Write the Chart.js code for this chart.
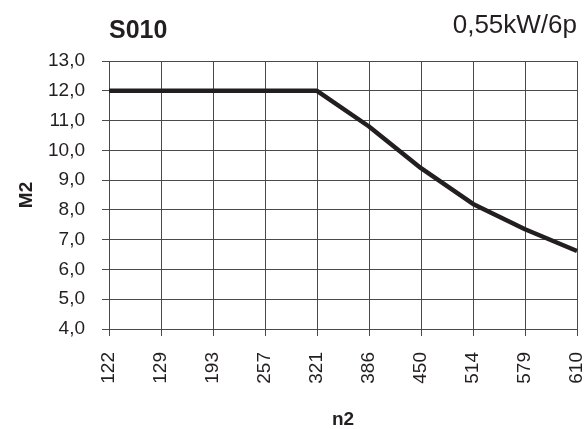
<!DOCTYPE html>
<html>
<head>
<meta charset="utf-8">
<script src="https://cdn.jsdelivr.net/npm/chart.js@4"></script>
<style>
  html, body { margin: 0; padding: 0; background: #fff; }
  #wrap { width: 587px; height: 429px; }
</style>
</head>
<body>
<div id="wrap"><canvas id="chart" width="587" height="429"></canvas></div>
<script>
const n2 = ["122", "129", "193", "257", "321", "386", "450", "514", "579", "610"];
const m2 = [12, 12, 12, 12, 12, 10.8, 9.4, 8.2, 7.35, 6.62];
const yMin = 4;
const yMax = 13;
const chartTitle = "S010";
const chartSubtitle = "0,55kW/6p";

const ink = "#231f20";
const gridColor = "#4a4a4a";
const fontFamily = '"Liberation Sans", Arial, sans-serif';

// titles sit above the plot, aligned to the chart area edges
const headerPlugin = {
  id: "header",
  afterDraw(chart) {
    const ctx = chart.ctx;
    const area = chart.chartArea;
    ctx.save();
    ctx.fillStyle = ink;
    ctx.textBaseline = "alphabetic";
    ctx.font = "bold 25px " + fontFamily;
    ctx.textAlign = "left";
    ctx.fillText(chartTitle, area.left, 38);
    ctx.font = "26px " + fontFamily;
    ctx.textAlign = "right";
    ctx.fillText(chartSubtitle, area.right, 33);
    ctx.restore();
  }
};

function initChart() {
  const ctx = document.getElementById("chart");
  new Chart(ctx, {
    type: "line",
    data: {
      labels: n2,
      datasets: [{
        label: "M2",
        data: m2,
        borderColor: ink,
        borderWidth: 4.5,
        pointRadius: 0,
        tension: 0,
        borderCapStyle: "butt",
        borderJoinStyle: "round"
      }]
    },
    options: {
      responsive: false,
      animation: false,
      layout: { padding: { top: 61, right: 10, left: 0, bottom: 0 } },
      plugins: {
        legend: { display: false },
        tooltip: { enabled: false }
      },
      scales: {
        x: {
          type: "category",
          offset: false,
          grid: { color: gridColor, lineWidth: 1, tickLength: 7, tickColor: gridColor },
          border: { color: gridColor, width: 1 },
          ticks: {
            autoSkip: false,
            minRotation: 90,
            maxRotation: 90,
            padding: 16,
            color: ink,
            font: { family: fontFamily, size: 19 }
          },
          title: {
            display: true,
            text: "n2",
            color: ink,
            padding: 0,
            font: { family: fontFamily, size: 19, weight: "bold", lineHeight: 1 }
          },
          afterFit(scale) {
            scale.height = 100;
            scale.paddingLeft = 0;
            scale.paddingRight = 0;
          }
        },
        y: {
          min: yMin,
          max: yMax,
          grid: { color: gridColor, lineWidth: 1, tickLength: 7, tickColor: gridColor },
          border: { color: gridColor, width: 1 },
          ticks: {
            stepSize: 1,
            padding: 17,
            color: ink,
            font: { family: fontFamily, size: 19 },
            callback: v => v.toFixed(1).replace(".", ",")
          },
          title: {
            display: true,
            text: "M2",
            color: ink,
            padding: { top: 15, bottom: 0 },
            font: { family: fontFamily, size: 19, weight: "bold" }
          },
          afterFit(scale) {
            scale.width = 109;
            scale.paddingTop = 0;
            scale.paddingBottom = 0;
          }
        }
      }
    },
    plugins: [headerPlugin]
  });
}

window.onload = () => {
  initChart();
};
</script>
</body>
</html>
